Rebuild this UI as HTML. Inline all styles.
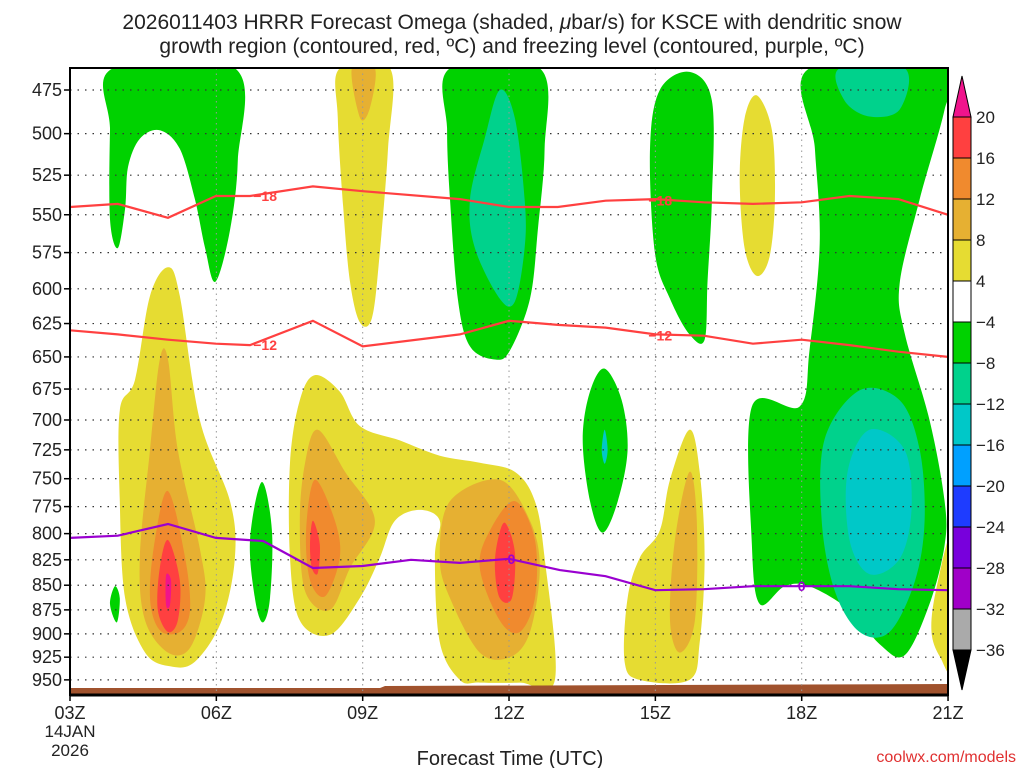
<!DOCTYPE html>
<html><head><meta charset="utf-8"><title>HRRR Omega</title>
<style>
html,body{margin:0;padding:0;background:#fff;}
svg{display:block;font-family:"Liberation Sans",sans-serif;}
</style></head>
<body>
<svg id="chart" width="1024" height="768" viewBox="0 0 1024 768">
<text x="512" y="29" text-anchor="middle" font-size="21" fill="#222">2026011403 HRRR Forecast Omega (shaded, <tspan font-style="italic">μ</tspan>bar/s) for KSCE with dendritic snow</text>
<text x="512" y="53" text-anchor="middle" font-size="21" fill="#222">growth region (contoured, red, ºC) and freezing level (contoured, purple, ºC)</text>
<g id="plot"></g>
<g id="axes"></g>
<g id="cbar"></g>
<text x="510" y="765" text-anchor="middle" font-size="20" fill="#222">Forecast Time (UTC)</text>
<text x="1016" y="762" text-anchor="end" font-size="16" fill="#e03030">coolwx.com/models</text>
</svg>
<script>
// axes: hours since 03Z, pressure hPa
const pLevels=[475,500,525,550,575,600,625,650,675,700,725,750,775,800,825,850,875,900,925,950];
const xTickHours=[0,3,6,9,12,15,18];
const xTickLabels=["03Z","06Z","09Z","12Z","15Z","18Z","21Z"];
const cbarLabels=["20","16","12","8","4","−4","−8","−12","−16","−20","−24","−28","−32","−36"];
const cbarColors=["#f0148c","#ff4040","#f08a2e","#e6b032","#e6dc32","#ffffff","#00d200","#00d28c","#00c8c8","#00a0ff","#1e3cff","#7800dc","#a000c8","#aaaaaa","#000000"];
// shaded regions [hour, hPa]
const G1=[[0.88,463],[3.38,463],[3.44,516],[3.28,560],[2.98,595],[2.77,572],[2.56,540],[2.25,509],[1.84,498],[1.43,503],[1.19,520],[1.13,546],[0.98,572],[0.82,553],[0.82,498]];
const Y1=[[5.53,463],[6.56,463],[6.52,509],[6.35,575],[6.19,621],[5.94,624],[5.74,595],[5.6,545],[5.49,491]];
const O1=[[5.78,463],[6.25,463],[6.15,485],[5.95,491]];
const G2=[[7.79,463],[9.63,463],[9.73,509],[9.59,560],[9.43,607],[9.02,645],[8.71,652],[8.2,642],[7.95,607],[7.79,540],[7.73,498]];
const T2=[[8.81,475],[9.12,491],[9.32,540],[9.32,572],[9.12,609],[8.81,607],[8.3,572],[8.2,540],[8.5,503]];
const G3=[[12.09,475],[12.7,465],[13.16,481],[13.16,540],[13.07,594],[13.01,637],[12.7,633],[12.3,607],[11.99,575],[11.89,509]];
const Y2=[[14.08,478],[14.39,498],[14.45,540],[14.34,578],[14.08,591],[13.83,572],[13.73,527],[13.83,491]];
const G4=[[15.16,463],[18,463],[17.93,486],[17.42,540],[17.01,596],[17.11,632],[17.62,700],[17.93,770],[17.93,811],[17.62,869],[17.11,923],[16.6,911],[15.98,875],[15.16,851],[14.65,851],[14.14,869],[13.98,811],[13.98,689],[14.96,689],[15.16,645],[15.37,569],[15.27,509]];
const T4a=[[15.78,463],[17.11,463],[17.01,486],[16.39,490],[15.88,481]];
const T4b=[[16.19,676],[17.01,684],[17.42,725],[17.52,788],[17.32,846],[16.8,898],[16.19,898],[15.68,856],[15.41,788],[15.47,716]];
const C4=[[16.39,708],[17.11,725],[17.25,778],[17.01,824],[16.39,839],[15.98,806],[15.94,744]];
const Y3=[[2.01,585],[2.25,605],[2.66,700],[3.28,770],[3.38,823],[3.11,886],[2.56,930],[2.05,935],[1.54,920],[1.13,863],[1.02,770],[1.02,692],[1.33,668],[1.64,605]];
const O3=[[2.01,652],[2.21,725],[2.66,814],[2.77,863],[2.46,915],[2.01,920],[1.54,886],[1.43,823],[1.64,725],[1.84,652]];
const D3=[[2.01,761],[2.36,823],[2.46,875],[2.25,898],[1.84,896],[1.64,863],[1.74,806]];
const R3=[[2.01,806],[2.25,845],[2.21,886],[2.01,898],[1.8,875],[1.84,833]];
const M3=[[1.97,840],[2.07,845],[2.05,870],[1.97,870]];
const Y4=[[5.02,664],[5.53,677],[5.94,705],[6.76,717],[7.58,730],[8.4,736],[9.12,744],[9.53,770],[9.73,823],[9.94,950],[9.22,953],[8.4,953],[7.99,950],[7.58,909],[7.48,823],[7.58,788],[7.17,778],[6.66,788],[6.35,823],[5.94,863],[5.33,901],[4.71,886],[4.51,823],[4.51,736],[4.71,684]];
const O4a=[[5.08,708],[5.64,744],[6.25,788],[5.74,833],[5.33,875],[4.82,856],[4.71,788],[4.82,736]];
const D4a=[[5.02,751],[5.43,788],[5.53,823],[5.23,861],[4.92,845],[4.84,797]];
const R4a=[[4.98,788],[5.12,810],[5.08,838],[4.96,833],[4.92,810]];
const O4b=[[8.81,751],[9.43,788],[9.63,833],[9.43,898],[9.02,925],[8.4,920],[7.79,863],[7.58,823],[7.79,770]];
const D4b=[[9.12,770],[9.53,806],[9.53,863],[9.22,898],[8.81,886],[8.4,833],[8.61,797]];
const R4b=[[8.92,790],[9.12,818],[9.06,863],[8.81,863],[8.71,833],[8.77,806]];
const G5=[[3.93,753],[4.14,797],[4.1,863],[3.95,888],[3.79,863],[3.69,806]];
const G6=[[0.92,851],[1.02,863],[0.96,888],[0.82,869]];
const G7=[[10.96,659],[11.31,684],[11.43,725],[11.23,770],[10.92,799],[10.66,770],[10.51,716],[10.66,677]];
const T7=[[10.96,708],[11.02,725],[10.96,737],[10.9,725]];
const Y5=[[12.7,708],[12.91,744],[13.01,823],[12.91,909],[12.7,950],[11.68,950],[11.37,930],[11.43,863],[11.68,823],[12.09,797],[12.3,751]];
const O5=[[12.7,744],[12.85,788],[12.81,886],[12.5,920],[12.3,886],[12.4,806]];
const Y6=[[18.1,800],[18.1,935],[17.84,925],[17.66,898],[17.75,856]];
// contour lines: hours and pressures
const lineHours=[0,0.98,2.01,2.99,3.69,4.98,6.0,7.99,9.0,10.0,10.98,12.0,12.99,14.0,15.0,15.98,16.98,18];
const lineHoursB=[0,0.98,2.01,2.99,3.96,4.98,6.0,6.99,7.99,9.0,10.04,10.98,12.0,12.99,14.0,15.0,15.98,16.98,18];
const minus18=[545,543,552,538,538,532,535,540,545,545,541,540,542,543,542,538,540,550];
const minus12=[630,633,637,640,641,623,642,633,623,626,628,633,634,640,637,641,646,650];
const zeroLine=[804,802,791,804,807,833,831,825,828,824,835,841,855,854,851,851,851,854,855];

const L=70,R=948,T=68,B=695;
const X=h=>L+48.78*h;
const Y=p=>90+851*Math.log(p/475);
const NS="http://www.w3.org/2000/svg";
const plot=document.getElementById('plot');
function mk(tag,attrs,parent){const e=document.createElementNS(NS,tag);for(const k in attrs)e.setAttribute(k,attrs[k]);parent.appendChild(e);return e;}
const defs=mk('defs',{},plot);
const cp=mk('clipPath',{id:'clip'},defs);
mk('rect',{x:L,y:T,width:R-L,height:B-T},cp);
const g=mk('g',{'clip-path':'url(#clip)'},plot);
function smooth(pts){
  const P=pts.map(q=>[X(q[0]),Y(q[1])]);const n=P.length;
  let d=`M${P[0][0].toFixed(1)},${P[0][1].toFixed(1)}`;
  for(let i=0;i<n;i++){const p0=P[(i-1+n)%n],p1=P[i],p2=P[(i+1)%n],p3=P[(i+2)%n];
    const c1=[p1[0]+(p2[0]-p0[0])/6,p1[1]+(p2[1]-p0[1])/6],c2=[p2[0]-(p3[0]-p1[0])/6,p2[1]-(p3[1]-p1[1])/6];
    d+=`C${c1[0].toFixed(1)},${c1[1].toFixed(1)} ${c2[0].toFixed(1)},${c2[1].toFixed(1)} ${p2[0].toFixed(1)},${p2[1].toFixed(1)}`;}
  return d+'Z';
}
const shapes=[
 [G1,'#00d200','omega-green-1'],[Y1,'#e6dc32','omega-yellow-1'],[O1,'#e6b032','omega-orange-1'],
 [G2,'#00d200','omega-green-2'],[T2,'#00d28c','omega-teal-2'],[G3,'#00d200','omega-green-3'],
 [Y2,'#e6dc32','omega-yellow-2'],[G4,'#00d200','omega-green-4'],[T4a,'#00d28c','omega-teal-4a'],
 [T4b,'#00d28c','omega-teal-4b'],[C4,'#00c8c8','omega-cyan-4'],
 [Y3,'#e6dc32','omega-yellow-3'],[O3,'#e6b032','omega-orange-3'],[D3,'#f08a2e','omega-darkorange-3'],
 [R3,'#ff4040','omega-red-3'],[M3,'#f0148c','omega-magenta-3'],
 [Y4,'#e6dc32','omega-yellow-4'],[O4a,'#e6b032','omega-orange-4a'],[D4a,'#f08a2e','omega-darkorange-4a'],[R4a,'#ff4040','omega-red-4a'],
 [O4b,'#e6b032','omega-orange-4b'],[D4b,'#f08a2e','omega-darkorange-4b'],[R4b,'#ff4040','omega-red-4b'],
 [G5,'#00d200','omega-green-5'],[G6,'#00d200','omega-green-6'],[G7,'#00d200','omega-green-7'],[T7,'#00c8c8','omega-cyan-7'],
 [Y5,'#e6dc32','omega-yellow-5'],[O5,'#e6b032','omega-orange-5'],[Y6,'#e6dc32','omega-yellow-6']
];
shapes.forEach(s=>{const e=mk('path',{d:smooth(s[0]),fill:s[1]},g);

});
const ter=mk('path',{d:`M${L},688 L380,688 L385,686 L948,684 L948,${B} L${L},${B}Z`,fill:'#a0522d'},g);


pLevels.forEach(p=>{const e=mk('line',{x1:L,x2:R,y1:Y(p),y2:Y(p),stroke:'#333','stroke-width':1.2,'stroke-dasharray':'1.5 6'},g);

});
xTickHours.forEach(h=>{const e=mk('line',{x1:X(h),x2:X(h),y1:T,y2:B,stroke:'#999','stroke-width':1,'stroke-dasharray':'1.5 4'},g);

});
function line(hs,ps,col,name,w){const d=hs.map((h,i)=>(i?'L':'M')+X(h).toFixed(1)+','+Y(ps[i]).toFixed(1)).join('');
const e=mk('path',{d:d,fill:'none',stroke:col,'stroke-width':w||2.2},g);

}
line(lineHours,minus18,'#ff4040','contour-minus18');
line(lineHours,minus12,'#ff4040','contour-minus12');
line(lineHoursB,zeroLine,'#9a00d0','freezing-level-0');
function clabel(h,p,txt,col,name){const x=X(h),y=Y(p);
const t=mk('text',{x:x,y:y+5,'text-anchor':'middle','font-size':14,'font-weight':'bold',fill:col},g);t.textContent=txt;

}
clabel(4,538,'−18','#ff4040','label-minus18-a');
clabel(12.1,541,'−18','#ff4040','label-minus18-b');
clabel(4,641,'−12','#ff4040','label-minus12-a');
clabel(12.1,634,'−12','#ff4040','label-minus12-b');
clabel(9.05,824,'0','#9a00d0','label-zero-a');
clabel(15.0,851,'0','#9a00d0','label-zero-b');
const ax=document.getElementById('axes');
const fr=mk('rect',{x:L,y:T,width:R-L,height:B-T,fill:'none',stroke:'#000','stroke-width':2},ax);


mk('line',{x1:L,x2:R,y1:B,y2:B,stroke:'#000','stroke-width':3},ax);
pLevels.forEach(p=>{mk('line',{x1:L-6,x2:L,y1:Y(p),y2:Y(p),stroke:'#000','stroke-width':1.5},ax);
const t=mk('text',{x:L-8,y:Y(p)+6,'text-anchor':'end','font-size':18,fill:'#222'},ax);t.textContent=p;

});
xTickHours.forEach((h,i)=>{mk('line',{x1:X(h),x2:X(h),y1:B,y2:B+6,stroke:'#000','stroke-width':1.5},ax);
const t=mk('text',{x:X(h),y:B+24,'text-anchor':'middle','font-size':18,fill:'#222'},ax);t.textContent=xTickLabels[i];

});
[['14JAN',737],['2026',756]].forEach(a=>{const t=mk('text',{x:L,y:a[1],'text-anchor':'middle','font-size':17,fill:'#222'},ax);t.textContent=a[0];

});
const cb=document.getElementById('cbar');
const cx=953,cw=18,cTop=117,cStep=41.0;
mk('path',{d:`M${cx},${cTop} L${cx+cw/2},76 L${cx+cw},${cTop}Z`,fill:cbarColors[0],stroke:'#000'},cb);
for(let i=1;i<14;i++){const e=mk('rect',{x:cx,y:cTop+(i-1)*cStep,width:cw,height:cStep,fill:cbarColors[i],stroke:'#000','stroke-width':1},cb);

}
const cBot=cTop+13*cStep;
mk('path',{d:`M${cx},${cBot} L${cx+cw/2},690 L${cx+cw},${cBot}Z`,fill:cbarColors[14],stroke:'#000'},cb);
cbarLabels.forEach((s,i)=>{const t=mk('text',{x:cx+cw+5,y:cTop+i*cStep+6,'font-size':17,fill:'#222'},cb);t.textContent=s;

});
</script>
</body></html>
